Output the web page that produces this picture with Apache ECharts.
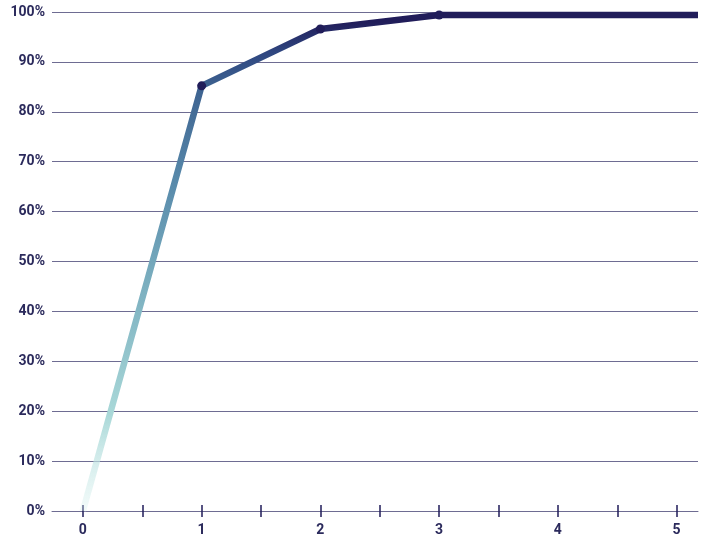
<!DOCTYPE html>
<html>
<head>
<meta charset="utf-8">
<script src="https://cdn.jsdelivr.net/npm/echarts@6/dist/echarts.min.js"></script>
<style>
  html, body { margin: 0; padding: 0; background: #fff; }
  #chart { width: 701px; height: 541px; }
</style>
</head>
<body>
<div id="chart"></div>
<script>
// cumulative share by step
var steps = [0, 1, 2, 3, 5.18];
var shares = [0, 85.2, 96.6, 99.4, 99.4];
var dotted = [false, true, true, true, false];
var xTicks = [0, 0.5, 1, 1.5, 2, 2.5, 3, 3.5, 4, 4.5, 5];
var xLabels = [0, 1, 2, 3, 4, 5];

var seriesData = [];
for (var i = 0; i < steps.length; i++) {
    seriesData.push({
        value: [steps[i], shares[i]],
        symbol: dotted[i] ? 'circle' : 'none'
    });
}

var navy = '#211d5a';
var txt = '#2b2a5c';
var gridCol = '#6e6c92';

var chart = echarts.init(document.getElementById('chart'));
var xBase = {
    type: 'value',
    min: -0.26,
    max: 5.18,
    position: 'bottom',
    splitLine: { show: false }
};
var option = {
    animation: false,
    grid: { left: 52, right: 3, top: 12, bottom: 30 },
    xAxis: [
        Object.assign({}, xBase, {
            axisLine: { show: true, onZero: false, lineStyle: { color: gridCol, width: 1 } },
            axisTick: { show: true, inside: false, length: 6, customValues: xTicks, lineStyle: { color: navy, width: 1.5 } },
            axisLabel: {
                customValues: xLabels,
                margin: 12,
                color: txt,
                fontFamily: 'Roboto',
                fontWeight: 'bold',
                fontSize: 14
            }
        }),
        Object.assign({}, xBase, {
            axisLine: { show: false, onZero: false },
            axisTick: { show: true, inside: true, length: 6, customValues: xTicks, lineStyle: { color: navy, width: 1.5 } },
            axisLabel: { show: false }
        })
    ],
    yAxis: {
        type: 'value',
        min: 0,
        max: 100,
        interval: 10,
        axisLine: { show: false },
        axisTick: { show: false },
        axisLabel: {
            formatter: '{value}%',
            margin: 7,
            color: txt,
            fontFamily: 'Roboto',
            fontWeight: 'bold',
            fontSize: 14
        },
        splitLine: { show: true, lineStyle: { color: gridCol, width: 1 } }
    },
    series: [
        {
            type: 'line',
            data: seriesData,
            symbolSize: 9,
            itemStyle: { color: navy },
            lineStyle: {
                width: 6.5,
                color: new echarts.graphic.LinearGradient(0, 1, 0, 0, [
                    { offset: 0, color: 'rgba(215,240,238,0.3)' },
                    { offset: 0.2, color: '#a9d8d8' },
                    { offset: 0.45, color: '#7cb0c0' },
                    { offset: 0.65, color: '#5a8cac' },
                    { offset: 0.85, color: '#3d6290' },
                    { offset: 0.92, color: '#2f4680' },
                    { offset: 0.98, color: navy },
                    { offset: 1, color: navy }
                ])
            },
            z: 2
        }
    ]
};
chart.setOption(option);
</script>
</body>
</html>
